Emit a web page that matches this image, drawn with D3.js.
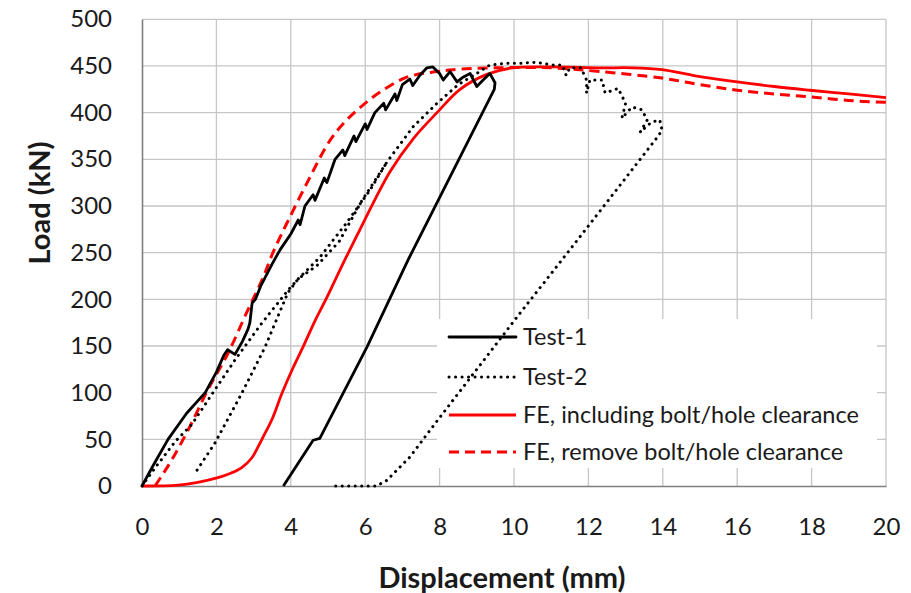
<!DOCTYPE html>
<html>
<head>
<meta charset="utf-8">
<script src="https://cdn.jsdelivr.net/npm/d3@7"></script>
<style>
  html, body { margin: 0; padding: 0; background: #fff; }
  svg { display: block; }
  text { font-family: Lato, "Open Sans", "Liberation Sans", sans-serif; fill: #1a1a1a; }
</style>
</head>
<body>
<svg id="chart" width="911" height="593"></svg>
<script>
// ---------------- data (displacement mm, load kN) ----------------
const xTicks = [0, 2, 4, 6, 8, 10, 12, 14, 16, 18, 20];
const yTicks = [0, 50, 100, 150, 200, 250, 300, 350, 400, 450, 500];

const seriesNames = ["Test-1", "Test-2", "FE, including bolt/hole clearance", "FE, remove bolt/hole clearance"];

const test1 = [
  [0,0],[0.3,22],[0.7,50],[1.2,78],[1.7,100],[2.0,122],[2.2,140],[2.3,146],[2.5,141],[2.7,155],[2.85,168],
  [2.9,175],[2.96,196],[3.05,200],[3.2,215],[3.5,238],[3.71,253],[4.0,270],[4.2,285],[4.25,280],[4.38,300],
  [4.6,312],[4.65,306],[4.9,330],[4.97,325],[5.19,350],[5.4,360],[5.45,354],[5.7,375],[5.75,369],[6.0,388],
  [6.05,382],[6.26,400],[6.5,410],[6.55,403],[6.8,420],[6.85,413],[7.0,430],[7.2,436],[7.28,429],[7.47,440],
  [7.66,448],[7.82,449],[8.0,442],[8.1,435],[8.28,444],[8.47,433],[8.63,438],[8.82,442],[9.0,428],[9.17,435],
  [9.35,442],[9.49,432],[9.47,425],[7.15,242],[6.05,149],[4.78,51],[4.6,49],[3.8,0]
];

const test2a = [
  [0,0],[0.4,22],[0.9,48],[1.34,66],[1.89,99],[2.5,135],[3.23,175],[3.93,210],[4.2,222],[4.78,245],
  [5.5,282],[6.13,317],[6.6,348]
];

const test2b = [
  [1.48,17],[1.96,46],[2.69,100],[3.31,149],[3.92,207],[4.2,222],[4.7,236],[5.3,262],[5.9,305],[6.6,348],
  [7.29,385],[7.93,410],[8.5,430],[9.0,442],[9.35,451],[9.8,453],[10.2,453],[10.6,454],[11.05,451],[11.3,451],
  [11.4,440],[11.5,448],[11.8,448],[11.95,435],[11.95,421],[12.04,435],[12.37,435],[12.45,421],[12.8,426],
  [13.0,410],[12.9,394],[13.17,406],[13.44,403],[13.58,392],[13.39,379],[13.7,390],[13.92,392],[13.98,381],
  [13.84,373],[11.5,253],[10.1,182],[7.88,67],[7.2,31],[6.58,6],[6.3,0],[5.1,0]
];

const feIncl = [
  [0,0],[0.97,1],[1.5,4],[2.04,9],[2.4,14],[2.69,20],[2.95,30],[3.12,42],[3.3,56],[3.49,71],[3.76,99],
  [4.03,124],[4.33,149],[4.65,177],[4.97,202],[5.4,238],[5.8,270],[6.2,302],[6.67,337],[7.29,372],[7.93,400],
  [8.55,425],[9.27,441],[9.97,448],[11.0,449],[12.3,448],[13.2,448],[13.98,446],[14.8,440],[16.0,433],
  [17.0,428],[17.96,424],[19.0,420],[20,416]
];

const feRemove = [
  [0.35,0],[0.55,12],[0.8,28],[1.24,60],[1.77,103],[2.31,142],[2.85,189],[3.23,221],[3.52,250],[3.9,282],
  [4.44,325],[5.05,370],[5.5,392],[5.94,408],[6.4,422],[7.12,438],[7.93,444],[8.36,446],[9.5,448],[11.0,448],
  [12.3,444],[13.98,437],[15.0,430],[16.0,424],[17.0,420],[17.96,417],[19.0,413],[20,411]
];

// ---------------- layout ----------------
const svg = d3.select("#chart");
const x = d3.scaleLinear().domain([0, 20]).range([142, 886]);
const y = d3.scaleLinear().domain([0, 500]).range([486, 19.3]);

// gridlines
const grid = svg.append("g");
grid.selectAll(".hg").data(yTicks.filter(d => d > 0)).enter().append("line")
  .attr("x1", x(0)).attr("x2", x(20)).attr("y1", d => y(d)).attr("y2", d => y(d))
  .attr("stroke", "#c6c6c6").attr("stroke-width", 1.3);
grid.selectAll(".vg").data(xTicks.filter(d => d > 0)).enter().append("line")
  .attr("y1", y(0)).attr("y2", y(500)).attr("x1", d => x(d)).attr("x2", d => x(d))
  .attr("stroke", "#c6c6c6").attr("stroke-width", 1.3);

// axes
const xAxis = d3.axisBottom(x).tickValues(xTicks).tickSize(0).tickPadding(31).tickFormat(d3.format("d"));
const yAxis = d3.axisLeft(y).tickValues(yTicks).tickSize(0).tickPadding(30).tickFormat(d3.format("d"));
const gx = svg.append("g").attr("transform", `translate(0,${y(0)})`).call(xAxis);
const gy = svg.append("g").attr("transform", `translate(${x(0)},0)`).call(yAxis);
[gx, gy].forEach(g => {
  g.select(".domain").attr("stroke", "#7f7f7f").attr("stroke-width", 1.6);
  g.selectAll("text").attr("font-size", 24).attr("fill", "#1a1a1a")
    .style("font-family", "Lato, 'Open Sans', sans-serif");
});
gx.selectAll("text").attr("dy", "0.35em").attr("y", 41);

// axis titles
svg.append("text").attr("x", 502).attr("y", 588).attr("text-anchor", "middle")
  .attr("font-size", 29).attr("font-weight", "bold").text("Displacement (mm)");
svg.append("text").attr("transform", "translate(50,203) rotate(-90)").attr("text-anchor", "middle")
  .attr("font-size", 29).attr("font-weight", "bold").text("Load (kN)");

// legend background (covers gridlines)
svg.append("rect").attr("x", 437).attr("y", 319).attr("width", 440).attr("height", 149).attr("fill", "#fff");

// series
const line = d3.line().x(d => x(d[0])).y(d => y(d[1]));
const smooth = d3.line().x(d => x(d[0])).y(d => y(d[1])).curve(d3.curveCatmullRom.alpha(0.5));
const plot = svg.append("g");

const styles = [
  { stroke: "#000", width: 2.8, dash: null, cap: "round" },
  { stroke: "#000", width: 3, dash: "0.1,6.4", cap: "round" },
  { stroke: "#f00", width: 2.8, dash: null, cap: "butt" },
  { stroke: "#f00", width: 3, dash: "10,6", cap: "butt" }
];

plot.append("path").attr("d", smooth(feIncl)).attr("fill", "none")
  .attr("stroke", styles[2].stroke).attr("stroke-width", styles[2].width);
plot.append("path").attr("d", smooth(feRemove)).attr("fill", "none")
  .attr("stroke", styles[3].stroke).attr("stroke-width", styles[3].width).attr("stroke-dasharray", styles[3].dash);
[test2a, test2b].forEach(s => {
  plot.append("path").attr("d", line(s)).attr("fill", "none")
    .attr("stroke", styles[1].stroke).attr("stroke-width", styles[1].width)
    .attr("stroke-dasharray", styles[1].dash).attr("stroke-linecap", "round").attr("stroke-linejoin", "round");
});
plot.append("path").attr("d", line(test1)).attr("fill", "none")
  .attr("stroke", styles[0].stroke).attr("stroke-width", styles[0].width).attr("stroke-linejoin", "round");

// legend
const legY = [337, 377, 415, 452];
const leg = svg.append("g");
seriesNames.forEach((name, i) => {
  const st = styles[i];
  leg.append("line").attr("x1", 449).attr("x2", 516).attr("y1", legY[i]).attr("y2", legY[i])
    .attr("stroke", st.stroke).attr("stroke-width", st.width)
    .attr("stroke-dasharray", st.dash).attr("stroke-linecap", st.cap);
  leg.append("text").attr("x", 523).attr("y", legY[i]).attr("dy", "0.35em")
    .attr("font-size", 23.5).text(name);
});
</script>
</body>
</html>
